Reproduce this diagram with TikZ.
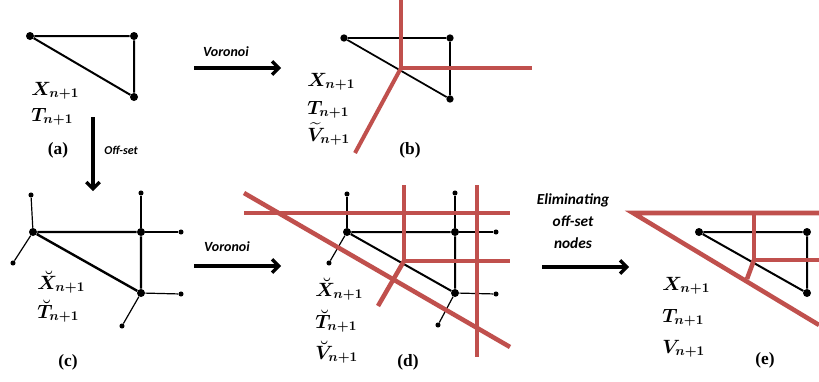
\documentclass[tikz,border=0pt]{standalone}
\usepackage{amsmath}
\usepackage{bm}
\usepackage{fontspec}
\newfontfamily\sansfont{Carlito}
\newfontfamily\tagfont{Liberation Serif}
\usepackage{tikz}
\usetikzlibrary{arrows.meta}
\definecolor{vorred}{RGB}{192,80,77}

\begin{document}
\begin{tikzpicture}[
    x=0.75pt,y=-0.75pt,
    >={Straight Barb[length=5pt,width=10pt]},
    dot/.style={circle, fill, inner sep=0pt, minimum size=6pt},
    sdot/.style={circle, fill, inner sep=0pt, minimum size=3.8pt},
    tri/.style={line width=1.5pt},
    offedge/.style={line width=0.9pt},
    vor/.style={draw=vorred, line width=3.4pt},
    flow/.style={->, line width=2.4pt},
    lbl/.style={font=\boldmath\fontsize{14}{16}\selectfont, anchor=base west, inner sep=0pt},
    panel/.style={font=\tagfont\bfseries\fontsize{13}{15}\selectfont},
    arrowtext/.style={font=\sansfont\bfseries\itshape\fontsize{10.5}{12}\selectfont, align=center}
]
\useasboundingbox (0,0) rectangle (819,382);

% --- (a) initial mesh ---
\node[dot] (a1) at (30,36) {};
\node[dot] (a2) at (134,36) {};
\node[dot] (a3) at (134,97) {};
\draw[tri] (a1) -- (a2) -- (a3) -- (a1);
\node[lbl] (aX) at (31,95) {$X_{n+1}$};
\node[lbl] (aT) at (31,121) {$T_{n+1}$};
\node[panel] (tagA) at (58,150) {(a)};

% --- (b) Voronoi of the mesh ---
\node[dot, minimum size=5.5pt] (b1) at (344,38) {};
\node[dot, minimum size=5.5pt] (b2) at (450,38) {};
\node[dot, minimum size=5.5pt] (b3) at (450,99) {};
\draw[line width=1.3pt] (b1) -- (b2) -- (b3) -- (b1);
\coordinate (bv) at (401,68);
\coordinate (bvTop) at (401,0);
\coordinate (bvRight) at (532,68);
\coordinate (bvDown) at (355,153);
\draw[vor, line width=3pt] (bvTop) -- (bv) -- (bvRight);
\draw[vor, line width=3pt] (bv) -- (bvDown);
\node[lbl] (bX) at (307,86) {$X_{n+1}$};
\node[lbl] (bT) at (307,114) {$T_{n+1}$};
\node[lbl] (bV) at (307,141) {$\widetilde{V}_{n+1}$};
\node[panel] (tagB) at (410,150) {(b)};

% --- (c) off-set nodes ---
\node[dot] (c1) at (33,232) {};
\node[dot] (c2) at (141,232) {};
\node[dot] (c3) at (141,293) {};
\node[sdot] (c4) at (31,195) {};
\node[sdot] (c5) at (141,193) {};
\node[sdot] (c6) at (181,232) {};
\node[sdot] (c7) at (13,263) {};
\node[sdot] (c8) at (181,294) {};
\node[sdot] (c9) at (122,326) {};
\draw[tri, line width=1.8pt] (c1) -- (c2) -- (c3) -- (c1);
\draw[offedge] (c1) -- (c4);
\draw[offedge] (c1) -- (c7);
\draw[offedge] (c2) -- (c5);
\draw[offedge] (c2) -- (c6);
\draw[offedge] (c3) -- (c8);
\draw[offedge] (c3) -- (c9);
\node[lbl] (cX) at (37,289) {$\breve{X}_{n+1}$};
\node[lbl] (cT) at (37,318) {$\breve{T}_{n+1}$};
\node[panel] (tagC) at (68,362) {(c)};

% --- (d) Voronoi with off-set nodes ---
\node[dot] (d1) at (347,232) {};
\node[dot] (d2) at (455,232) {};
\node[dot] (d3) at (455,293) {};
\node[sdot] (d4) at (347,194) {};
\node[sdot] (d5) at (455,193) {};
\node[sdot] (d6) at (496,232) {};
\node[sdot] (d7) at (329,263) {};
\node[sdot] (d8) at (496,294) {};
\node[sdot] (d9) at (438,325) {};
\draw[tri] (d1) -- (d2) -- (d3) -- (d1);
\draw[offedge] (d1) -- (d4);
\draw[offedge] (d1) -- (d7);
\draw[offedge] (d2) -- (d5);
\draw[offedge] (d2) -- (d6);
\draw[offedge] (d3) -- (d8);
\draw[offedge] (d3) -- (d9);
\coordinate (dh1L) at (244,213);
\coordinate (dh1R) at (510,213);
\coordinate (dh2R) at (510,261);
\coordinate (dv) at (404,261);
\coordinate (dv1Top) at (404,185);
\coordinate (dv2Top) at (477,185);
\coordinate (dv2Bot) at (477,357);
\coordinate (ddTop) at (244,193);
\coordinate (ddBot) at (510,347);
\coordinate (dsBot) at (378,306);
\draw[vor] (dh1L) -- (dh1R);
\draw[vor] (dv1Top) -- (dv) -- (dh2R);
\draw[vor] (dv) -- (dsBot);
\draw[vor] (dv2Top) -- (dv2Bot);
\draw[vor] (ddTop) -- (ddBot);
\node[lbl] (dX) at (315,296) {$\breve{X}_{n+1}$};
\node[lbl] (dT) at (315,328) {$\breve{T}_{n+1}$};
\node[lbl] (dV) at (315,359) {$\breve{V}_{n+1}$};
\node[panel] (tagD) at (408,362) {(d)};

% --- (e) off-set nodes eliminated ---
\node[dot] (e1) at (699,232) {};
\node[dot] (e2) at (807,232) {};
\node[dot] (e3) at (807,293) {};
\draw[tri] (e1) -- (e2) -- (e3) -- (e1);
\coordinate (eh1L) at (633,213);
\coordinate (eh1R) at (819,213);
\coordinate (ev) at (754,260);
\coordinate (eh2R) at (819,260);
\coordinate (esBot) at (747,279);
\coordinate (edBot) at (819,325);
\draw[vor] (edBot) -- (eh1L) -- (eh1R);
\draw[vor] (754,213) -- (ev) -- (eh2R);
\draw[vor] (ev) -- (esBot);
\node[lbl] (eX) at (662,290) {$X_{n+1}$};
\node[lbl] (eT) at (662,322) {$T_{n+1}$};
\node[lbl] (eV) at (662,353) {$V_{n+1}$};
\node[panel] (tagE) at (765,360) {(e)};

% --- Process arrows ---
\coordinate (abS) at (194,68);
\coordinate (abE) at (281,68);
\draw[flow] (abS) -- (abE);
\node[arrowtext] (abT) at (226,52) {Voronoi};

\coordinate (acS) at (93,117);
\coordinate (acE) at (93,191);
\draw[flow] (acS) -- (acE);
\node[arrowtext, font=\sansfont\bfseries\itshape\fontsize{9}{10}\selectfont] (acT) at (121,150) {Off-set};

\coordinate (cdS) at (194,266);
\coordinate (cdE) at (281,266);
\draw[flow] (cdS) -- (cdE);
\node[arrowtext] (cdT) at (227,247) {Voronoi};

\coordinate (deS) at (542,267);
\coordinate (deE) at (629,267);
\draw[flow] (deS) -- (deE);
\node[arrowtext, font=\sansfont\bfseries\itshape\fontsize{11.5}{16.5}\selectfont] (deT) at (573,221) {Eliminating\\off-set\\nodes};

\end{tikzpicture}
\end{document}
